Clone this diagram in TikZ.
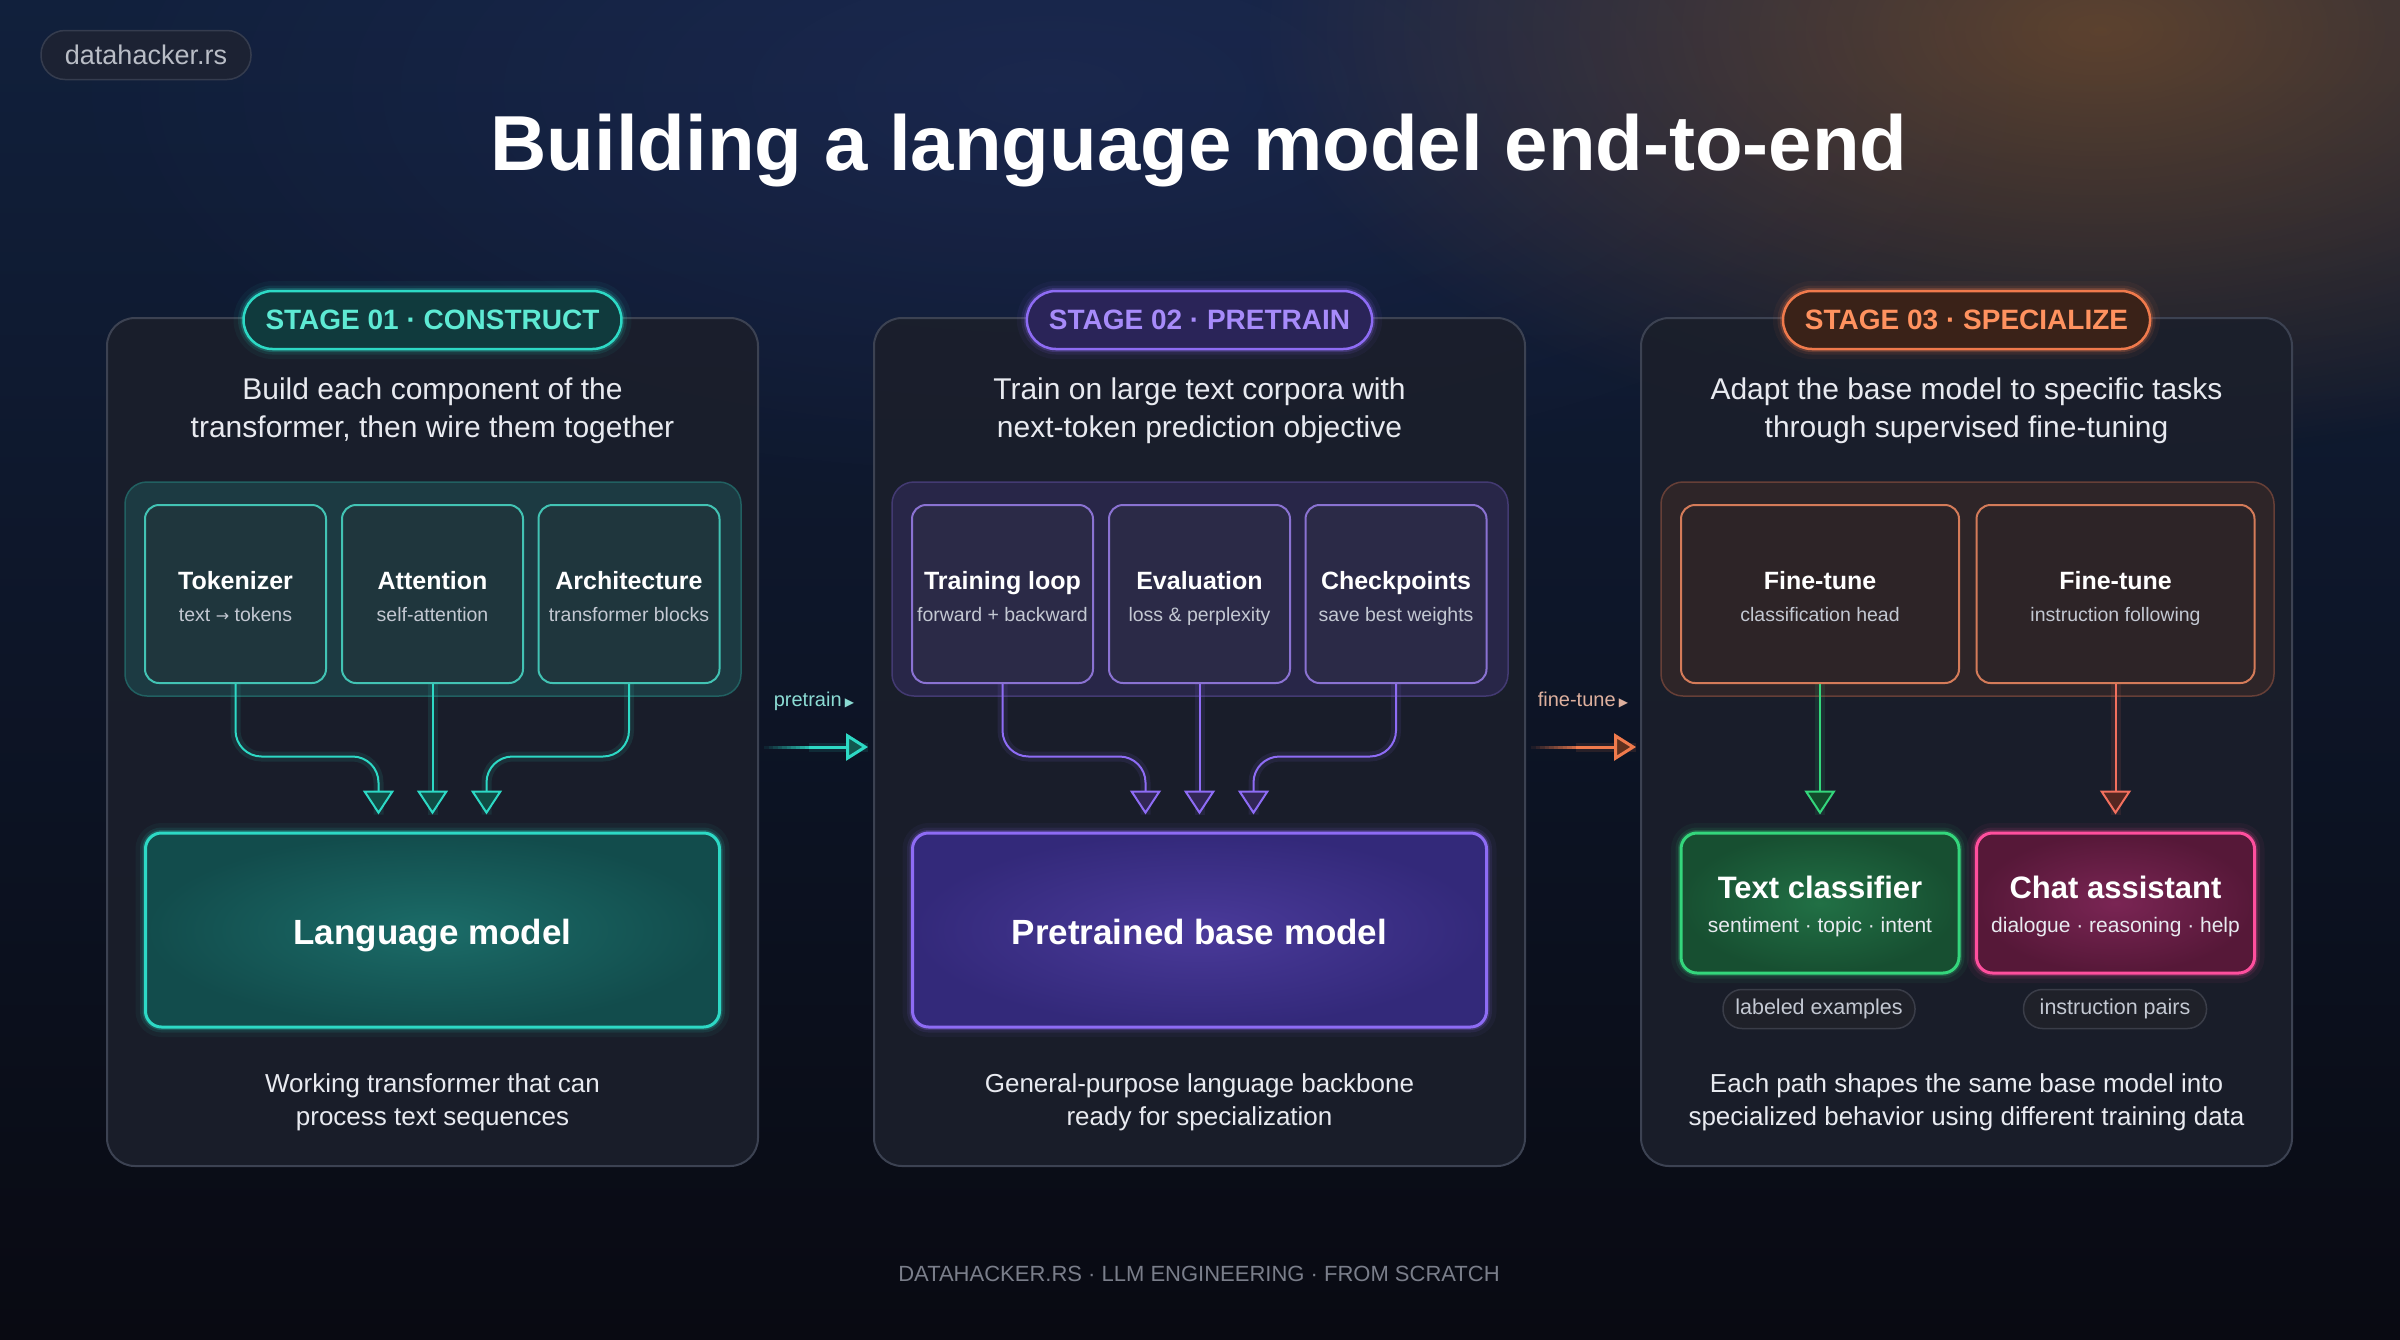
\documentclass[tikz,border=0pt]{standalone}
\usepackage{fontspec}
\setmainfont{Liberation Sans}
\newfontfamily\symf{DejaVu Sans}
\usetikzlibrary{arrows.meta,calc,fadings}
\newcommand\fsz[2]{\fontsize{#1pt}{#2pt}\selectfont}

\definecolor{cBgTop}{HTML}{11203C}
\definecolor{cBgBot}{HTML}{090A12}
\definecolor{cPanel}{HTML}{1B1F2B}
\definecolor{cPanelB}{HTML}{3C4252}
\definecolor{cTxt}{HTML}{E8EAF0}
\definecolor{cSub}{HTML}{C3C8D2}
\definecolor{cTeal}{HTML}{2DD9C5}
\definecolor{cTealT}{HTML}{5EEAD4}
\definecolor{cTealPill}{HTML}{103A3D}
\definecolor{cTealGrp}{HTML}{1C3A42}
\definecolor{cTealSub}{HTML}{1F363D}
\definecolor{cTealIn}{HTML}{1B6C68}
\definecolor{cTealOut}{HTML}{124C4C}
\definecolor{cPur}{HTML}{8E6CF5}
\definecolor{cPurT}{HTML}{A78BFA}
\definecolor{cPurPill}{HTML}{2A2458}
\definecolor{cPurGrp}{HTML}{282648}
\definecolor{cPurSub}{HTML}{2B2A47}
\definecolor{cPurIn}{HTML}{4A3A9A}
\definecolor{cPurOut}{HTML}{33297A}
\definecolor{cOr}{HTML}{F07A4C}
\definecolor{cOrT}{HTML}{FF925F}
\definecolor{cOrPill}{HTML}{3A2218}
\definecolor{cOrGrp}{HTML}{2E2528}
\definecolor{cOrSub}{HTML}{2D2427}
\definecolor{cGr}{HTML}{34D67C}
\definecolor{cGrIn}{HTML}{217045}
\definecolor{cGrOut}{HTML}{174F31}
\definecolor{cPk}{HTML}{FF4F9E}
\definecolor{cPkIn}{HTML}{7A2554}
\definecolor{cPkOut}{HTML}{561838}
\definecolor{cSalmon}{HTML}{F2705E}
\definecolor{cChip}{HTML}{1F2129}
\definecolor{cChipB}{HTML}{3A3D48}
\definecolor{cFoot}{HTML}{7A7E8A}
\definecolor{cBadge}{HTML}{1C2233}
\definecolor{cBadgeB}{HTML}{353C4E}

\tikzfading[name=radfade, inner color=transparent!35, outer color=transparent!100]

\newcommand\subbox[7]{%
  \node[sbox, minimum width=#3, draw=#6, fill=#7] (#1) at (#2,594) {};
  \node[tb, font=\bfseries\fsz{25}{30}, text=white] (#1t) at (#2,589) {#4};
  \node[tb, font=\fsz{19.5}{24}, text=cSub] (#1s) at (#2,621) {#5};}

\begin{document}
\begin{tikzpicture}[x=1pt,y=-1pt,
  glow/.style={preaction={draw=#1,line width=20pt,draw opacity=0.05},
               preaction={draw=#1,line width=11pt,draw opacity=0.10},
               preaction={draw=#1,line width=6pt,draw opacity=0.22}},
  panel/.style={rectangle, rounded corners=28pt, draw=cPanelB, line width=2pt,
                fill=cPanel, fill opacity=0.9, minimum width=651pt, minimum height=848pt},
  pill/.style n args={3}{rectangle, rounded corners=29pt, draw=#1, fill=#2,
                line width=2.5pt, minimum height=58pt, inner xsep=22pt, text=#3,
                font=\bfseries\fsz{28}{34}, glow=#1},
  desc/.style={align=center, font=\fsz{30}{38}, text=cTxt},
  bott/.style={align=center, font=\fsz{26}{33}, text=cTxt},
  grp/.style={rectangle, rounded corners=22pt, line width=1.5pt, minimum height=214pt},
  sbox/.style={rectangle, rounded corners=14pt, line width=2pt, minimum height=178pt},
  tb/.style={anchor=base, inner sep=0pt},
  big/.style n args={3}{rectangle, rounded corners=16pt, draw=#1, line width=3pt,
                inner color=#2, outer color=#3, glow=#1},
  chip/.style={rectangle, rounded corners=19pt, draw=cChipB, fill=cChip, line width=1.5pt,
                minimum height=39pt, font=\fsz{21.5}{26}, text=cSub},
  conn/.style={draw=#1, line width=2pt, rounded corners=26pt,
               -{Triangle[length=24pt,width=31pt,fill=#1!35!black]},
               preaction={draw=#1, line width=10pt, draw opacity=0.10, -}},
  flow/.style={draw=#1, line width=3pt, -{Triangle[length=22pt,width=27pt,fill=#1!40!black]}},
]
\useasboundingbox (0,0) rectangle (2400,1339);
% background
\shade[top color=cBgTop, bottom color=cBgBot] (0,0) rectangle (2400,1339);
\fill[cBgTop!70!blue!80!white, opacity=0.35, path fading=radfade] (1050,90) ellipse (1000 and 420);
\fill[orange!60!brown, opacity=0.55, path fading=radfade] (2100,30) ellipse (850 and 430);

% badge & title
\node[rectangle, rounded corners=24pt, draw=cBadgeB, fill=cBadge, line width=1.5pt,
      minimum width=210pt, minimum height=49pt] (badge) at (146,55) {};
\node[tb, font=\fsz{27}{32}, text=cSub!85!gray] (badget) at (146,64) {datahacker.rs};
\node[tb, font=\bfseries\fsz{78}{90}, text=white] (title) at (1199,170) {Building a language model end-to-end};

% ---------- Stage 1
\node[panel] (p1) at (432.5,742) {};
\node[pill={cTeal}{cTealPill}{cTealT}] (s1) at (432.5,320) {STAGE 01 · CONSTRUCT};
\node[desc] (d1) at (432.5,411) {Build each component of the\\transformer, then wire them together};
\node[grp, minimum width=616pt, draw=cTeal!35!cPanel, fill=cTealGrp] (g1) at (433,589) {};
\subbox{tok}{235.5}{181pt}{Tokenizer}{text {\symf\fsz{16}{20}→} tokens}{cTeal!75!gray}{cTealSub}
\subbox{att}{432.5}{181pt}{Attention}{self-attention}{cTeal!75!gray}{cTealSub}
\subbox{arch}{629}{181pt}{Architecture}{transformer blocks}{cTeal!75!gray}{cTealSub}
\node[big={cTeal}{cTealIn}{cTealOut}, minimum width=574pt, minimum height=194pt] (lm) at (432.5,930) {};
\node[tb, font=\bfseries\fsz{35}{40}, text=white] (lmt) at (432.5,944) {Language model};
\draw[conn=cTeal] (tok.south) |- ($(lm.north)+(-54,-75)$) -- ($(lm.north)+(-54,-17)$);
\draw[conn=cTeal] (att.south) -- ($(lm.north)+(0,-17)$);
\draw[conn=cTeal] (arch.south) |- ($(lm.north)+(54,-75)$) -- ($(lm.north)+(54,-17)$);
\node[bott] (b1) at (432.5,1102) {Working transformer that can\\process text sequences};

% ---------- Stage 2
\node[panel] (p2) at (1199.5,742) {};
\node[pill={cPur}{cPurPill}{cPurT}] (s2) at (1199.5,320) {STAGE 02 · PRETRAIN};
\node[desc] (d2) at (1199.5,411) {Train on large text corpora with\\next-token prediction objective};
\node[grp, minimum width=616pt, draw=cPur!35!cPanel, fill=cPurGrp] (g2) at (1200,589) {};
\subbox{trl}{1002.5}{181pt}{Training loop}{forward + backward}{cPur!70!gray}{cPurSub}
\subbox{eva}{1199.5}{181pt}{Evaluation}{loss \& perplexity}{cPur!70!gray}{cPurSub}
\subbox{chk}{1396}{181pt}{Checkpoints}{save best weights}{cPur!70!gray}{cPurSub}
\node[big={cPur}{cPurIn}{cPurOut}, minimum width=574pt, minimum height=194pt] (pbm) at (1199.5,930) {};
\node[tb, font=\bfseries\fsz{35}{40}, text=white] (pbmt) at (1199.5,944) {Pretrained base model};
\draw[conn=cPur] (trl.south) |- ($(pbm.north)+(-54,-75)$) -- ($(pbm.north)+(-54,-17)$);
\draw[conn=cPur] (eva.south) -- ($(pbm.north)+(0,-17)$);
\draw[conn=cPur] (chk.south) |- ($(pbm.north)+(54,-75)$) -- ($(pbm.north)+(54,-17)$);
\node[bott] (b2) at (1199.5,1102) {General-purpose language backbone\\ready for specialization};

% ---------- Stage 3
\node[panel] (p3) at (1966.5,742) {};
\node[pill={cOr}{cOrPill}{cOrT}] (s3) at (1966.5,320) {STAGE 03 · SPECIALIZE};
\node[desc] (d3) at (1966.5,411) {Adapt the base model to specific tasks\\through supervised fine-tuning};
\node[grp, minimum width=613pt, draw=cOr!35!cPanel, fill=cOrGrp] (g3) at (1967.5,589) {};
\subbox{ft1}{1820}{278pt}{Fine-tune}{classification head}{cOr!75!gray}{cOrSub}
\subbox{ft2}{2115.5}{278pt}{Fine-tune}{instruction following}{cOr!75!gray}{cOrSub}
\node[big={cGr}{cGrIn}{cGrOut}, minimum width=278pt, minimum height=140pt] (tc) at (1820,903) {};
\node[tb, font=\bfseries\fsz{31}{36}, text=white] (tct) at (1820,898) {Text classifier};
\node[tb, font=\fsz{21}{26}, text=cTxt] (tcs) at (1820,932) {sentiment · topic · intent};
\node[big={cPk}{cPkIn}{cPkOut}, minimum width=278pt, minimum height=140pt] (ca) at (2115.5,903) {};
\node[tb, font=\bfseries\fsz{31}{36}, text=white] (cat) at (2115.5,898) {Chat assistant};
\node[tb, font=\fsz{21}{26}, text=cTxt] (cas) at (2115.5,932) {dialogue · reasoning · help};
\draw[conn=cGr] (ft1.south) -- ($(tc.north)+(0,-17)$);
\draw[conn=cSalmon] (ft2.south) -- ($(ca.north)+(0,-17)$);
\node[chip, minimum width=192pt] (le) at (1819,1009) {labeled examples};
\node[chip, minimum width=183pt] (ip) at (2115,1009) {instruction pairs};
\node[bott] (b3) at (1966.5,1102) {Each path shapes the same base model into\\specialized behavior using different training data};

% ---------- between-stage arrows
\coordinate (pa1) at (764,747);
\coordinate (pa2) at (868,747);
\foreach \i [evaluate=\i as \op using \i/12] in {1,...,10}
  \draw[cTeal, line width=3pt, draw opacity=\op] ($(pa1)+(\i*4.5-4.5,0)$) -- ++(4.5,0);
\draw[flow=cTeal, preaction={draw=cTeal, line width=9pt, draw opacity=0.12, -}] ($(pa1)+(45,0)$) -- (pa2);
\node[tb, font=\fsz{20}{24}, text=cTealT!55!cSub] (lab1) at (814,706) {pretrain\,{\symf\fsz{12}{14}▶}};

\coordinate (fa1) at (1531,747);
\coordinate (fa2) at (1636,747);
\foreach \i [evaluate=\i as \op using \i/12] in {1,...,10}
  \draw[cOr, line width=3pt, draw opacity=\op] ($(fa1)+(\i*4.5-4.5,0)$) -- ++(4.5,0);
\draw[flow=cOr, preaction={draw=cOr, line width=9pt, draw opacity=0.12, -}] ($(fa1)+(45,0)$) -- (fa2);
\node[tb, font=\fsz{20}{24}, text=cOrT!45!cSub] (lab2) at (1583,706) {fine-tune\,{\symf\fsz{12}{14}▶}};

% footer
\node[tb, font=\fsz{22}{26}, text=cFoot] (foot) at (1199,1281) {DATAHACKER.RS · LLM ENGINEERING · FROM SCRATCH};
\end{tikzpicture}
\end{document}
